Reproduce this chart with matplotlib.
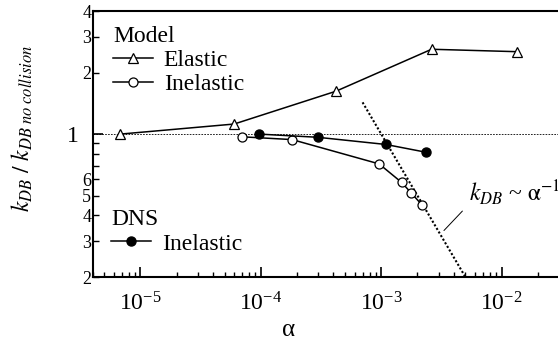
import numpy as np
import matplotlib.pyplot as plt
from matplotlib.ticker import FixedLocator, FixedFormatter, LogFormatterMathtext, LogLocator

plt.rcParams['font.family'] = 'serif'
plt.rcParams['font.serif'] = ['Liberation Serif', 'DejaVu Serif']
plt.rcParams['mathtext.fontset'] = 'stix'

# Model, elastic collisions
alpha_elastic = [6.8e-6, 6.0e-5, 4.2e-4, 2.62e-3, 1.34e-2]
ratio_elastic = [1.0, 1.12, 1.62, 2.60, 2.53]

# Model, inelastic collisions
alpha_inelastic = [7.0e-5, 1.82e-4, 9.6e-4, 1.48e-3, 1.77e-3, 2.17e-3]
ratio_inelastic = [0.97, 0.94, 0.715, 0.58, 0.516, 0.452]

# DNS, inelastic collisions
alpha_dns = [9.7e-5, 2.96e-4, 1.09e-3, 2.36e-3]
ratio_dns = [1.0, 0.965, 0.89, 0.815]

# k_DB ~ alpha^-1 guide line
alpha_guide = [7.0e-4, 5.0e-3]
ratio_guide = [1.43, 0.2]

y_minor_ticks = [0.2, 0.3, 0.4, 0.5, 0.6, 0.7, 0.8, 0.9, 2, 3, 4]
y_minor_labels = ['2', '3', '4', '5', '6', '', '', '', '2', '3', '4']

fig = plt.figure(figsize=(5.58, 3.43), dpi=100)
ax = fig.add_axes([0.1658, 0.1924, 0.8342, 0.7755])
ax.set_xscale('log')
ax.set_yscale('log')
ax.set_xlim(4e-6, 2.94e-2)
ax.set_ylim(0.2, 4)

ax.axhline(1.0, color='black', lw=0.6, ls=(0, (2, 1.5)))
ax.plot(alpha_guide, ratio_guide, color='black', lw=1.5, ls=(0, (1, 1)))

l_el, = ax.plot(alpha_elastic, ratio_elastic, '-^', color='black', lw=1.1,
                mfc='white', mec='black', ms=7, mew=0.9)
l_in, = ax.plot(alpha_inelastic, ratio_inelastic, '-o', color='black', lw=1.1,
                mfc='white', mec='black', ms=6.5, mew=0.9)
l_dns, = ax.plot(alpha_dns, ratio_dns, '-o', color='black', lw=1.1,
                 mfc='black', mec='black', ms=6.5)

leg_kw = dict(frameon=False, fontsize=17, title_fontsize=17, handlelength=1.7,
              handletextpad=0.45, labelspacing=0.12, borderpad=0, borderaxespad=0,
              alignment='left', loc='upper left')
leg1 = ax.legend([l_el, l_in], ['Elastic', 'Inelastic'], title='Model',
                 bbox_to_anchor=(0.044, 0.945), **leg_kw)
ax.add_artist(leg1)
ax.legend([l_dns], ['Inelastic'], title='DNS',
          bbox_to_anchor=(0.04, 0.255), **leg_kw)

ax.text(5.4e-3, 0.52, r'$k_{DB}$ ~ $\mathrm{\alpha}^{-1}$', fontsize=17,
        ha='left', va='center')
ax.annotate('', xy=(3.2e-3, 0.33), xytext=(4.9e-3, 0.43),
            arrowprops=dict(arrowstyle='-', lw=0.7, color='black'))

# axes styling
ax.spines['right'].set_visible(False)
for s in ['left', 'top', 'bottom']:
    ax.spines[s].set_linewidth(1.5)

ax.xaxis.set_major_locator(LogLocator(base=10, numticks=10))
ax.xaxis.set_major_formatter(LogFormatterMathtext())
ax.xaxis.set_minor_locator(LogLocator(base=10, subs=np.arange(2, 10), numticks=20))
ax.tick_params(axis='x', which='major', direction='in', length=7, width=1.2,
               labelsize=17, pad=11, top=False)
ax.tick_params(axis='x', which='minor', direction='in', length=3.5, width=1.0, top=False)

ax.yaxis.set_major_locator(FixedLocator([1]))
ax.yaxis.set_major_formatter(FixedFormatter(['1']))
ax.yaxis.set_minor_locator(FixedLocator(y_minor_ticks))
ax.yaxis.set_minor_formatter(FixedFormatter(y_minor_labels))
ax.tick_params(axis='y', which='major', direction='in', length=7, width=1.2,
               labelsize=17, pad=10, right=False)
ax.tick_params(axis='y', which='minor', direction='in', length=4.5, width=1.0,
               labelsize=13, pad=1, right=False)

ax.set_ylabel(r'$k_{DB}\ /\ k_{DB\ no\ collision}$', fontsize=17)
ax.yaxis.set_label_coords(-0.124, 0.56)
ax.set_xlabel('α', fontsize=18)
ax.xaxis.set_label_coords(0.422, -0.2)
ax.xaxis.label.set_va('center')

fig.savefig('out.png', dpi=100)
